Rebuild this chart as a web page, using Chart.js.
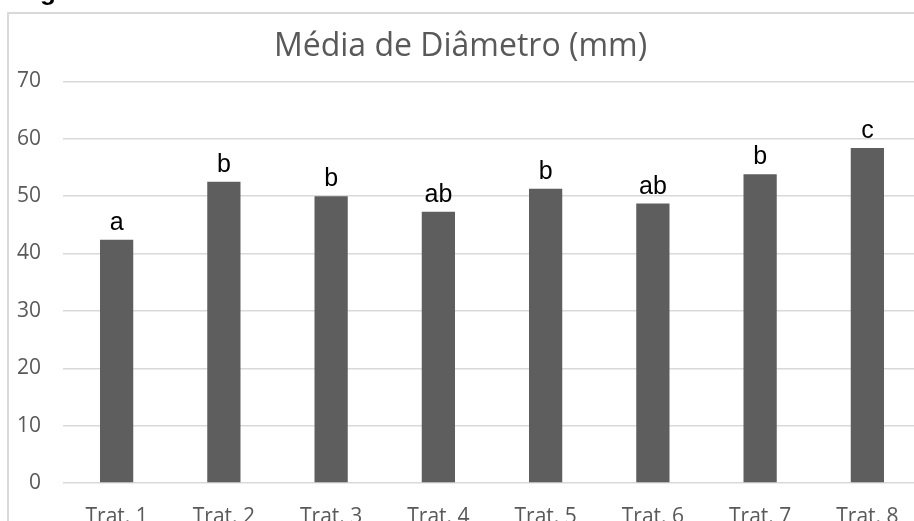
<!DOCTYPE html>
<html>
<head>
<meta charset="utf-8">
<script src="https://cdn.jsdelivr.net/npm/chart.js@4.4.1/dist/chart.umd.min.js"></script>
<style>
  html, body { margin: 0; padding: 0; background: #fff; overflow: hidden; }
  #wrap { position: absolute; left: 0; top: 0; width: 940px; height: 540px; }
</style>
</head>
<body>
<div id="wrap"><canvas id="chart"></canvas></div>
<script>
// Chart data
const categories = ['Trat. 1', 'Trat. 2', 'Trat. 3', 'Trat. 4', 'Trat. 5', 'Trat. 6', 'Trat. 7', 'Trat. 8'];
const diameters = [42.4, 52.5, 50.0, 47.3, 51.3, 48.7, 53.8, 58.4];
const letters = ['a', 'b', 'b', 'ab', 'b', 'ab', 'b', 'c'];
const yTicks = [0, 10, 20, 30, 40, 50, 60, 70];

// Frame around the chart, plus the cut off caption above it
const framePlugin = {
    id: 'frame',
    beforeDraw(chart) {
        const ctx = chart.ctx;
        ctx.save();
        ctx.fillStyle = '#fff';
        ctx.fillRect(0, 0, chart.width, chart.height);
        ctx.strokeStyle = '#d9d9d9';
        ctx.lineWidth = 2;
        ctx.strokeRect(8, 13, chart.width, chart.height);
        ctx.fillStyle = '#000';
        ctx.font = 'bold 26px "Liberation Sans"';
        ctx.textBaseline = 'alphabetic';
        ctx.fillText('Figura', 17, 0);
        ctx.restore();
    }
};

// Letters above each bar
const lettersPlugin = {
    id: 'letters',
    afterDatasetsDraw(chart) {
        const ctx = chart.ctx;
        const meta = chart.getDatasetMeta(0);
        ctx.save();
        ctx.fillStyle = '#000';
        ctx.font = '25px "Liberation Sans"';
        ctx.textAlign = 'center';
        ctx.textBaseline = 'alphabetic';
        meta.data.forEach((bar, i) => {
            ctx.fillText(letters[i], bar.x, bar.y - 10);
        });
        ctx.restore();
    }
};

new Chart(document.getElementById('chart'), {
    type: 'bar',
    data: {
        labels: categories,
        datasets: [{
            data: diameters,
            backgroundColor: '#5e5e5e',
            barPercentage: 0.31,
            categoryPercentage: 1
        }]
    },
    options: {
        responsive: true,
        maintainAspectRatio: false,
        animation: false,
        layout: { padding: { left: 0, right: 19, top: 0, bottom: 0 } },
        plugins: {
            legend: { display: false },
            tooltip: { enabled: false },
            title: {
                display: true,
                text: 'Média de Diâmetro (mm)',
                color: '#595959',
                font: { family: 'Open Sans', size: 32, weight: 'normal', lineHeight: 1.2 },
                padding: { top: 28, bottom: 15 }
            }
        },
        scales: {
            x: {
                grid: { display: false },
                border: { display: false },
                ticks: {
                    color: '#595959',
                    font: { family: 'Open Sans', size: 21 },
                    padding: 13,
                    maxRotation: 0
                },
                afterFit(scale) { scale.height = 57; }
            },
            y: {
                min: 0,
                max: 70,
                afterBuildTicks(scale) { scale.ticks = yTicks.map(v => ({ value: v })); },
                grid: { color: '#d9d9d9', lineWidth: 1.5, drawTicks: false },
                border: { display: false },
                ticks: {
                    color: '#595959',
                    font: { family: 'Open Sans', size: 21 },
                    padding: 22
                },
                afterFit(scale) { scale.width = 63; }
            }
        }
    },
    plugins: [framePlugin, lettersPlugin]
});
</script>
</body>
</html>
